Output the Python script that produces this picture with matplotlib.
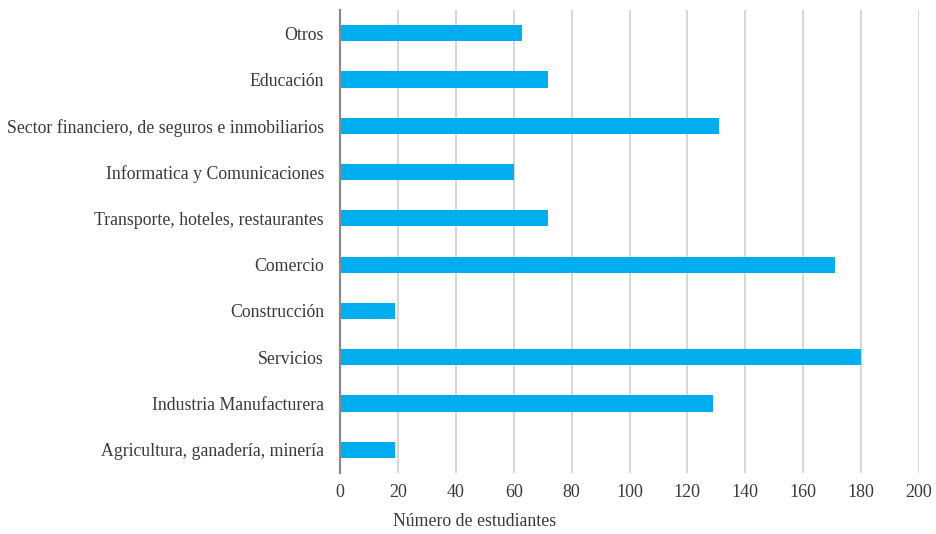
import matplotlib
matplotlib.use("Agg")
import matplotlib.pyplot as plt

categories = [
    "Otros",
    "Educación",
    "Sector financiero, de seguros e inmobiliarios",
    "Informatica y Comunicaciones",
    "Transporte, hoteles, restaurantes",
    "Comercio",
    "Construcción",
    "Servicios",
    "Industria Manufacturera",
    "Agricultura, ganadería, minería",
]
students = [63, 72, 131, 60, 72, 171, 19, 180, 129, 19]
x_ticks = [0, 20, 40, 60, 80, 100, 120, 140, 160, 180, 200]
x_label = "Número de estudiantes"

plt.rcParams["font.family"] = ["Liberation Serif", "DejaVu Serif"]
text_color = "#3a3a3a"

fig = plt.figure(figsize=(9.37, 5.34), dpi=100)
ax = fig.add_axes([340 / 937, 1 - 473 / 534, 579 / 937, 463 / 534])

positions = list(range(len(categories)))
ax.barh(positions, students, height=0.35, color="#00adee", zorder=2)

ax.set_ylim(len(categories) - 0.5, -0.5)
ax.set_xlim(0, 200)
ax.set_xticks(x_ticks)
ax.set_xticklabels([str(t) for t in x_ticks], fontsize=13, color=text_color)
ax.set_yticks(positions)
ax.set_yticklabels(categories, fontsize=12.8, color=text_color)
ax.tick_params(axis="y", length=0, pad=11.5)
ax.tick_params(axis="x", length=0, pad=8)

ax.grid(axis="x", color="#cfcfcf", linewidth=1.2, zorder=1)
ax.set_axisbelow(True)

for side in ("top", "right", "bottom"):
    ax.spines[side].set_visible(False)
ax.spines["left"].set_color("#8a8a8a")
ax.spines["left"].set_linewidth(1.6)
ax.spines["left"].set_zorder(3)

fig.text(475 / 937, 1 - 522 / 534, x_label, fontsize=12.8, color=text_color,
         ha="center", va="center")

fig.savefig("out.png", dpi=100, facecolor="white")
